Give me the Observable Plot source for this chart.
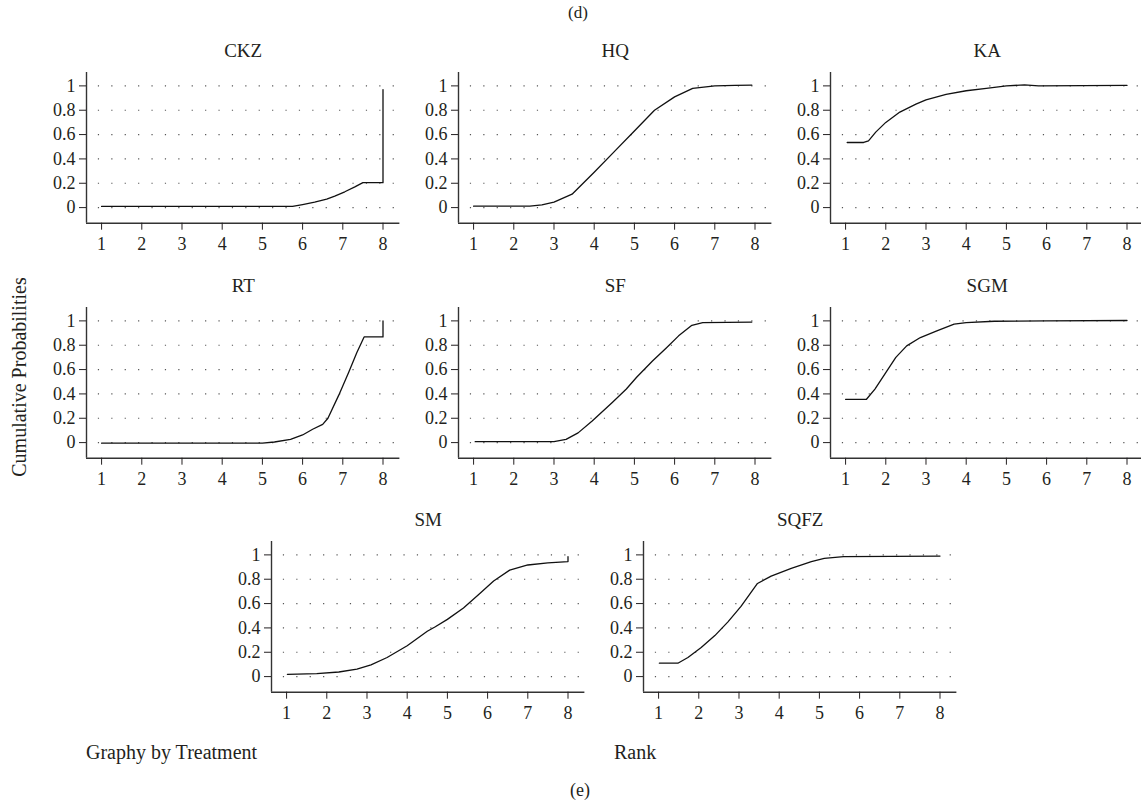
<!DOCTYPE html>
<html>
<head>
<meta charset="utf-8">
<script src="https://cdn.jsdelivr.net/npm/d3@7"></script>
<script src="https://cdn.jsdelivr.net/npm/@observablehq/plot@0.6"></script>
<style>
  body { margin: 0; background: #fff; }
  #root { position: relative; width: 1141px; height: 805px; overflow: hidden;
          font-family: "Liberation Serif", "DejaVu Serif", serif; color: #231f20; }
  .lbl { position: absolute; white-space: nowrap; line-height: 1; }
  .panel { position: absolute; }
</style>
</head>
<body>
<div id="root"></div>
<script>
// ---- data ----
const treatments = ["CKZ", "HQ", "KA", "RT", "SF", "SGM", "SM", "SQFZ"];
const xTicks = [1, 2, 3, 4, 5, 6, 7, 8];
const yTicks = [0, 0.2, 0.4, 0.6, 0.8, 1];

const rankCKZ = [1, 2, 3, 4, 5, 5.75, 6, 6.3, 6.6, 6.8, 7.05, 7.3, 7.5, 8, 8];
const probCKZ = [0.01, 0.01, 0.01, 0.01, 0.01, 0.01, 0.025, 0.045, 0.07, 0.095, 0.13, 0.17, 0.205, 0.205, 0.97];

const rankHQ = [1, 2, 2.4, 2.7, 3, 3.45, 4, 4.5, 5, 5.5, 6, 6.45, 7, 7.5, 7.92];
const probHQ = [0.012, 0.012, 0.013, 0.022, 0.045, 0.11, 0.29, 0.46, 0.63, 0.8, 0.91, 0.98, 1.0, 1.005, 1.007];

const rankKA = [1.04, 1.45, 1.57, 1.75, 2, 2.35, 2.75, 3, 3.5, 4, 4.5, 5, 5.45, 5.8, 8];
const probKA = [0.535, 0.535, 0.548, 0.62, 0.70, 0.785, 0.85, 0.885, 0.93, 0.96, 0.98, 1.0, 1.008, 1.0, 1.004];

const rankRT = [1, 5, 5.3, 5.7, 6, 6.25, 6.5, 6.63, 6.9, 7.15, 7.35, 7.53, 8, 8];
const probRT = [-0.005, -0.005, 0.005, 0.027, 0.063, 0.11, 0.15, 0.2, 0.39, 0.58, 0.74, 0.868, 0.868, 1.0];

const rankSF = [1.04, 3, 3.3, 3.6, 3.95, 4.45, 4.8, 5.05, 5.45, 5.8, 6.1, 6.43, 6.7, 7.92];
const probSF = [0.008, 0.008, 0.027, 0.08, 0.178, 0.33, 0.44, 0.535, 0.67, 0.78, 0.877, 0.964, 0.986, 0.99];

const rankSGM = [1, 1.52, 1.73, 2, 2.25, 2.52, 2.86, 3.27, 3.7, 4, 4.7, 6, 8];
const probSGM = [0.356, 0.356, 0.44, 0.575, 0.70, 0.795, 0.863, 0.918, 0.973, 0.986, 0.997, 1.0, 1.003];

const rankSM = [1.02, 1.75, 2.3, 2.75, 3.1, 3.5, 4, 4.5, 4.7, 5, 5.4, 5.8, 6.15, 6.55, 7, 7.5, 8, 8];
const probSM = [0.019, 0.025, 0.038, 0.062, 0.097, 0.157, 0.254, 0.373, 0.41, 0.47, 0.564, 0.68, 0.785, 0.875, 0.917, 0.934, 0.945, 0.985];

const rankSQFZ = [1.02, 1.48, 1.73, 2.06, 2.4, 2.72, 3.05, 3.46, 3.8, 4.3, 4.8, 5.12, 5.6, 8];
const probSQFZ = [0.11, 0.11, 0.157, 0.24, 0.337, 0.448, 0.577, 0.765, 0.826, 0.89, 0.945, 0.972, 0.986, 0.99];

const series = {
  CKZ: [rankCKZ, probCKZ], HQ: [rankHQ, probHQ], KA: [rankKA, probKA],
  RT: [rankRT, probRT], SF: [rankSF, probSF], SGM: [rankSGM, probSGM],
  SM: [rankSM, probSM], SQFZ: [rankSQFZ, probSQFZ]
};

// ---- layout ----
const xMin = 0.625, xMax = 8.42, yMin = -0.128, yMax = 1.11;
const ML = 55, MR = 6, MT = 42, MB = 40;
const innerW = 313.4, innerH = 150.7;
const W = ML + innerW + MR, H = MT + innerH + MB;
// origin of each panel: (y-axis x position, x-axis y position)
const origins = {
  CKZ: [85.7, 222.3], HQ: [457.7, 222.3], KA: [830, 222.3],
  RT: [85.7, 457.3], SF: [457.7, 457.3], SGM: [830, 457.3],
  SM: [271, 691.8], SQFZ: [643.3, 691.8]
};

const root = document.getElementById("root");
const fmt = d => String(+d.toFixed(1));

for (const name of treatments) {
  const [xs, ys] = series[name];
  const data = xs.map((x, i) => ({rank: x, prob: ys[i]}));
  const chart = Plot.plot({
    width: W, height: H,
    marginLeft: ML, marginRight: MR, marginTop: MT, marginBottom: MB,
    style: {fontFamily: "Liberation Serif, serif", fontSize: "18px", color: "#231f20", background: "transparent", overflow: "visible"},
    x: {domain: [xMin, xMax], label: null},
    y: {domain: [yMin, yMax], label: null},
    marks: [
      Plot.ruleY(yTicks, {x1: 0.92, x2: xMax, stroke: "#555", strokeWidth: 1.2, strokeDasharray: "1.2,12.2"}),
      Plot.ruleX([xMin], {y1: yMin, y2: yMax, stroke: "#333", strokeWidth: 1.4}),
      Plot.ruleY([yMin], {x1: xMin, x2: xMax, stroke: "#333", strokeWidth: 1.4}),
      Plot.line(data, {x: "rank", y: "prob", stroke: "#111", strokeWidth: 1.3}),
      Plot.axisX({ticks: xTicks, tickSize: 7, tickPadding: 7, tickFormat: d => d, label: null, anchor: "bottom"}),
      Plot.axisY({ticks: yTicks, tickSize: 7, tickPadding: 4, tickFormat: fmt, label: null, anchor: "left"}),
      Plot.text([name], {frameAnchor: "top", dy: -21.6, lineAnchor: "middle", fontSize: 19, fill: "#231f20"})
    ]
  });
  const [ax, ay] = origins[name];
  chart.classList.add("panel");
  chart.style.left = (ax - ML) + "px";
  chart.style.top = (ay - innerH - MT) + "px";
  root.appendChild(chart);
}

function label(text, x, y, size, opts = {}) {
  const d = document.createElement("div");
  d.className = "lbl";
  d.textContent = text;
  d.style.fontSize = size + "px";
  d.style.left = x + "px";
  d.style.top = y + "px";
  d.style.transform = opts.transform || "translate(-50%, -50%)";
  root.appendChild(d);
}
label("(d)", 578, 12, 17);
label("Cumulative Probabilities", 19, 377, 20, {transform: "translate(-50%, -50%) rotate(-90deg)"});
label("Graphy by Treatment", 86, 752, 20, {transform: "translate(0, -50%)"});
label("Rank", 614, 752, 20, {transform: "translate(0, -50%)"});
label("(e)", 580, 790, 18);
</script>
</body>
</html>
